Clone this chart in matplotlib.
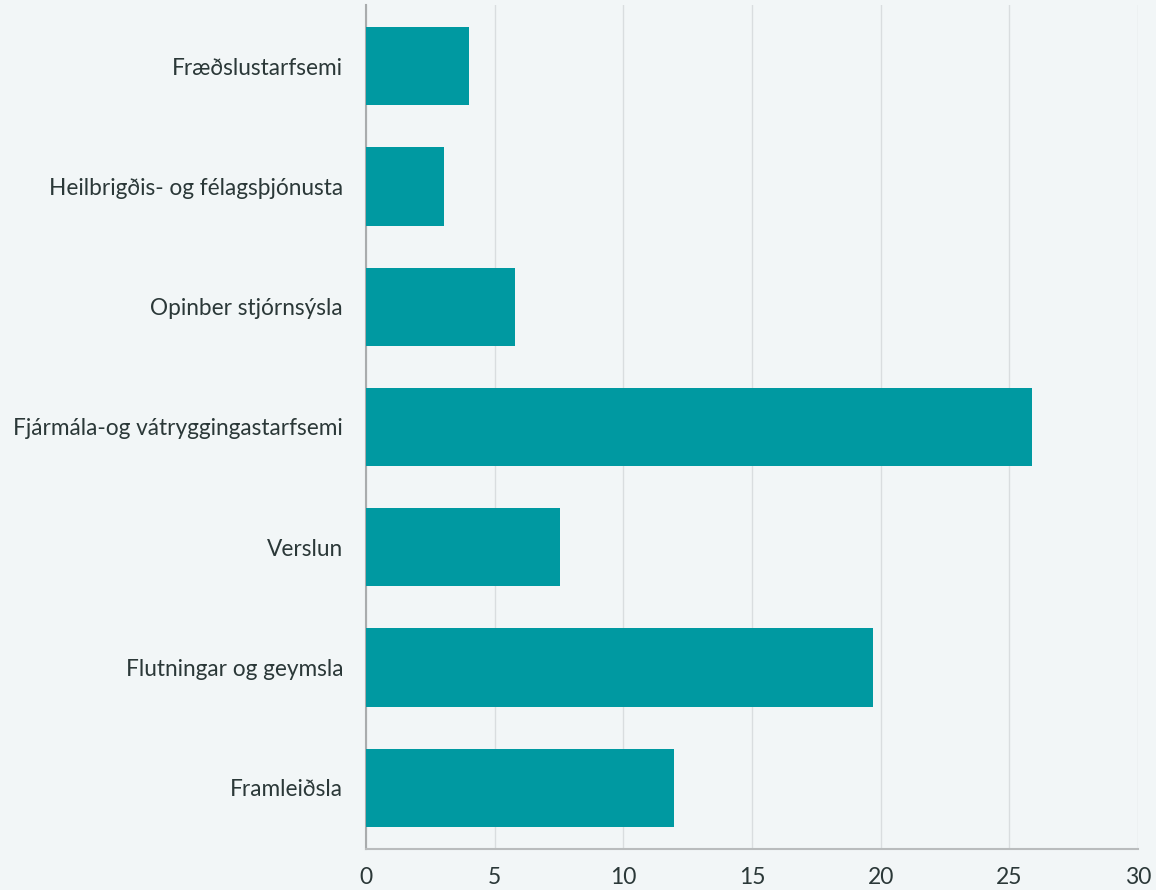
import matplotlib
matplotlib.use('Agg')
import matplotlib.pyplot as plt

plt.rcParams['font.family'] = ['Lato', 'DejaVu Sans']

categories = ['Fræðslustarfsemi', 'Heilbrigðis- og félagsþjónusta', 'Opinber stjórnsýsla',
              'Fjármála-og vátryggingastarfsemi', 'Verslun', 'Flutningar og geymsla', 'Framleiðsla']
values = [4.0, 3.05, 5.8, 25.9, 7.55, 19.7, 11.95]
xticks = [0, 5, 10, 15, 20, 25, 30]

BG = '#f2f6f7'
BAR = '#0099a1'
TEXT = '#2b3838'

fig = plt.figure(figsize=(11.56, 8.9), dpi=100, facecolor=BG)
ax = fig.add_axes([366 / 1156, 1 - 849 / 890, (1138 - 366) / 1156, (849 - 5) / 890])
ax.set_facecolor(BG)

y = list(range(len(categories)))
ax.barh(y, values, height=0.65, color=BAR, zorder=3)

ax.set_ylim(len(categories) - 0.49, -0.51)
ax.set_xlim(0, 30)
ax.set_xticks(xticks)
ax.set_xticklabels([str(t) for t in xticks], fontsize=16.5, color=TEXT)
ax.set_yticks(y)
ax.set_yticklabels(categories, fontsize=16.3, color=TEXT)
ax.tick_params(axis='both', length=0)
ax.tick_params(axis='x', pad=13)
ax.tick_params(axis='y', pad=16.5)

ax.grid(axis='x', color='#d9dddf', linewidth=1, zorder=0)
for s in ['top', 'right']:
    ax.spines[s].set_visible(False)
ax.spines['left'].set_color('#a9acad')
ax.spines['left'].set_linewidth(1.5)
ax.spines['bottom'].set_color('#b9bcbd')
ax.spines['bottom'].set_linewidth(1.5)

fig.savefig('out.png', dpi=100, facecolor=BG)
